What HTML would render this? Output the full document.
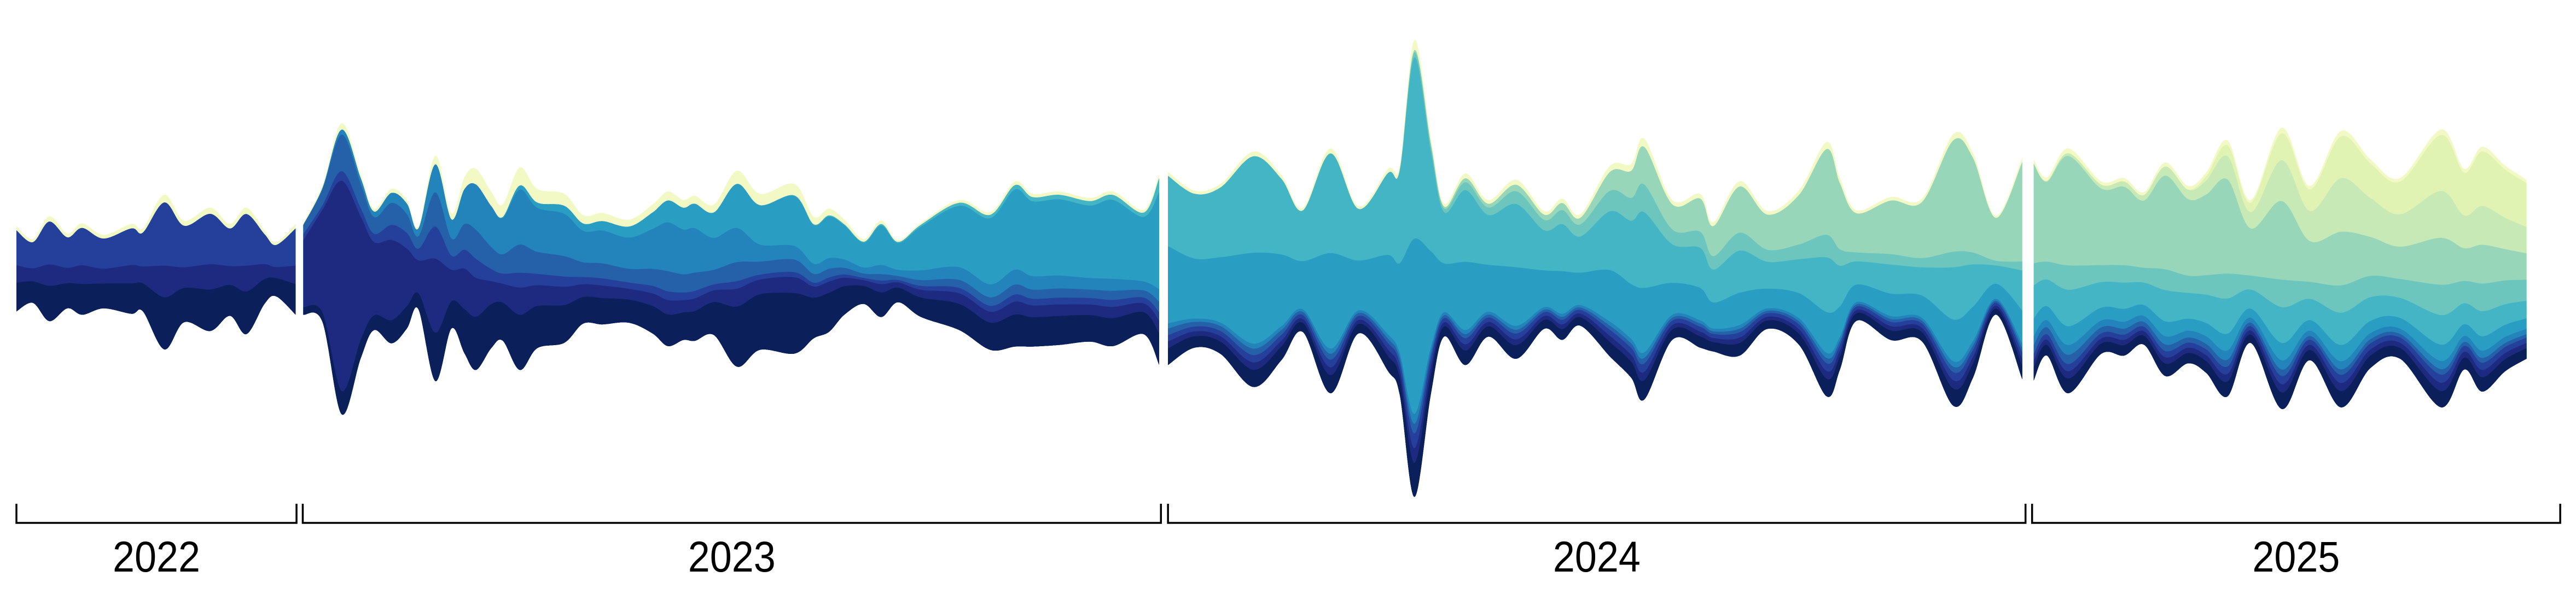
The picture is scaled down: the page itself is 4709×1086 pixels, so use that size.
<!DOCTYPE html>
<html><head><meta charset="utf-8"><style>
html,body{margin:0;padding:0;background:#fff;}
svg{display:block;}
</style></head>
<body>
<svg id="chart" width="4709" height="1086" viewBox="0 0 4709 1086" xmlns="http://www.w3.org/2000/svg">
<g id="layers"></g>
<g id="axis"></g>
</svg>
<script>
const t2022 = [10,20,30,41,50,63,80,87,100,112,128,140,150,161,168,180];
const top2022 = [137.6,145.5,131.7,142.2,136,143,136.3,139,118.5,134.3,126.4,136.3,126.4,140.3,147.5,136.3];
const bottom2022 = [189.6,184.4,195.5,187.7,191.6,187.7,191,189.6,212.7,196.2,201.5,192.3,203.4,185,180.4,191.6];

const t2023 = [184.6,196.3,208,219.6,227.6,238.3,247.7,254.7,265,274.8,282.7,289.7,299,306,316.4,327,343.5,355,366.8,383,397.2,406.5,416,423,434.6,448.6,462.6,483.6,495.3,504.7,514,525.7,536.4,546.7,560.7,584,602.8,617.8,628.5,644.9,663.6,677.6,696.3,705.6];
const top2023 = [135.6,112.6,75.1,106,127,115,121.8,137.6,94.8,129.7,108,102.7,116.6,124.5,102,115,118,131,129.7,133.7,124.5,116.6,121.8,119.2,124.5,104,118,112,132,127,133.7,145.5,134.3,146.2,135.6,121.8,129,110.6,118,116.6,120.5,116.6,127.7,106];
const bottom2023 = [191.6,196,252.2,218,201,209,200,188.3,232,200,215,225.2,212,207.4,225.2,212,208.7,197,197.5,196.5,203,210.7,207,207.5,204,223.2,213,215.3,206,202,191.6,185,193,184,193,201,213,211,211,210,208,210.7,203.5,222];

const t2024 = [711,727,743,763,780,793,810,827,845,852,861,871,879,892,906,923,940,951,962,980,993,1001,1018,1035,1043,1059,1076,1095,1112,1120,1130,1151,1170,1189,1201,1215,1231];
const top2024 = [104.6,116,112,92.2,106.5,126.6,90.3,125.6,102.7,100.8,24.3,83.6,123.7,105.6,121.8,109.4,128.5,120.9,130.4,101,99.8,84.5,121.8,118,135.2,110.3,128.5,116,86.4,108.4,128,119.9,120.9,81.7,93.1,131.4,96];
const bottom2024 = [222.2,211.7,215.5,235.6,219.3,202.1,239.4,203,226,240,302.5,240,205,222.2,205,218.4,200.2,206.9,198.3,217,230,243.2,206.9,211.7,214,216.5,200.2,209.8,241.3,225,195.4,207,207.9,247,230,191.6,230.8];

const t2025 = [1238,1246,1259,1279,1293,1305,1318,1332,1343,1356,1370,1389,1406,1425,1443,1461,1486,1500,1511,1525,1538];
const top2025 = [97,108,90.3,110.3,108.4,117,98.9,113.2,105,85.5,121.8,77.8,113.2,79.7,97,108.4,78.8,102.7,89.3,100.8,109.4];
const bottom2025 = [231.7,216.5,239.4,215.5,216.5,209.8,228.9,221.2,227,241.3,208.8,249,219.3,248,224,218.4,248,225,238.4,226,218.4];

const shareTimes = [10,180,185,215,260,300,420,470,560,705,712,850,960,1080,1232,1238,1330,1420,1538];
const shareL0  = [.33,.33,.05,.08,.2,.3,.18,.4,.2,.15,.07,.07,.07,.07,.06,.06,.06,.06,.06];
const shareL1  = [.2,.2,.7,.65,.35,.15,.08,.1,.08,.06,.03,.03,.03,.03,.03,.03,.03,.03,.03];
const shareL2  = [.4,.4,.03,.03,.15,.08,.05,.03,.04,.04,.03,.03,.03,.03,.03,.03,.03,.03,.03];
const shareL3  = [0,0,.1,.12,.15,.15,.12,.08,.06,.05,.03,.02,.02,.02,.02,.04,.03,.02,.02];
const shareL4  = [0,0,0,.02,.1,.28,.3,.08,.1,.06,.02,.02,.02,.02,.02,.04,.04,.03,.03];
const shareL5  = [0,0,0,0,0,0,.15,.28,.45,.45,.37,.37,.27,.16,.15,.08,.07,.06,.06];
const shareL6  = [0,0,0,0,0,0,0,0,.02,.03,.4,.38,.3,.22,.18,.15,.15,.12,.1];
const shareL7  = [0,0,0,0,0,0,0,0,0,0,0,0,.1,.1,.04,.1,.1,.1,.12];
const shareL8  = [0,0,0,0,0,0,0,0,0,0,0,0,.05,.3,.45,.45,.45,.2,.15];
const shareL9  = [0,0,0,0,0,0,0,0,0,0,0,0,0,0,0,0,.05,.2,.15];
const shareL10 = [0,0,0,0,0,0,0,0,0,0,0,0,0,0,0,0,0,.15,.25];
const shareL11 = [.05,.05,.02,.02,.03,.1,.05,.08,.02,.02,.02,.02,.03,.03,.02,.02,.02,.02,.02];

const yearLabels = ["2022","2023","2024","2025"];
const yearStart = [10,184.3,711,1237];
const yearEnd = [180.5,706.7,1233,1558.5];

const layerColors = ["#0b1f5b","#1d2a7f","#24409a","#2461a8","#2284bb","#2a9dc2","#44b5c4","#6dc6bd","#98d6b9","#c6e9b5","#e0f3b3","#f2f9c5"];

const S = 3.003;
const xScale = t => t * S;
const yScale = v => v * S;

const shares = [shareL0,shareL1,shareL2,shareL3,shareL4,shareL5,shareL6,shareL7,shareL8,shareL9,shareL10,shareL11];
function shareAt(arr, t){
  if (t <= shareTimes[0]) return arr[0];
  for (let i=0;i<shareTimes.length-1;i++){
    if (t>=shareTimes[i] && t<=shareTimes[i+1]){
      const f=(t-shareTimes[i])/(shareTimes[i+1]-shareTimes[i]);
      return arr[i]+(arr[i+1]-arr[i])*f;
    }
  }
  return arr[arr.length-1];
}
function curve(pts){
  let d = "";
  for (let i=0;i<pts.length-1;i++){
    const p0=pts[Math.max(0,i-1)], p1=pts[i], p2=pts[i+1], p3=pts[Math.min(pts.length-1,i+2)];
    const c1=[p1[0]+(p2[0]-p0[0])/6, p1[1]+(p2[1]-p0[1])/6];
    const c2=[p2[0]-(p3[0]-p1[0])/6, p2[1]-(p3[1]-p1[1])/6];
    d += ` C${c1[0].toFixed(1)},${c1[1].toFixed(1)} ${c2[0].toFixed(1)},${c2[1].toFixed(1)} ${p2[0].toFixed(1)},${p2[1].toFixed(1)}`;
  }
  return d;
}
const NS="http://www.w3.org/2000/svg";
const layersG=document.getElementById('layers');
const segments=[[t2022,top2022,bottom2022,"2022"],[t2023,top2023,bottom2023,"2023"],[t2024,top2024,bottom2024,"2024"],[t2025,top2025,bottom2025,"2025"]];
segments.forEach(seg=>{
  const [ts,tops,bots,yr]=seg;
  const g=document.createElementNS(NS,'g');
  
  
  layersG.appendChild(g);
  const bounds=[];
  ts.forEach((t,i)=>{
    const sh=shares.map(a=>Math.max(0,shareAt(a,t)));
    const tot=sh.reduce((a,b)=>a+b,0)||1;
    const h=bots[i]-tops[i];
    let acc=0; const row=[];
    sh.forEach(s=>{acc+=s/tot; row.push(bots[i]-h*acc);});
    bounds.push(row);
  });
  const lower=ts.map((t,i)=>[xScale(t),yScale(bots[i])]).reverse();
  for (let k=layerColors.length-1;k>=0;k--){
    const upper=ts.map((t,i)=>[xScale(t),yScale(bounds[i][k])]);
    let d=`M${upper[0][0].toFixed(1)},${upper[0][1].toFixed(1)}`+curve(upper);
    d+=` L${lower[0][0].toFixed(1)},${lower[0][1].toFixed(1)}`+curve(lower)+" Z";
    const p=document.createElementNS(NS,'path');
    p.setAttribute('d',d);
    p.setAttribute('fill',layerColors[k]);
    
    
    g.appendChild(p);
  }
});
const axisG=document.getElementById('axis');
yearLabels.forEach((lab,i)=>{
  const x0=xScale(yearStart[i]), x1=xScale(yearEnd[i]);
  const br=document.createElementNS(NS,'path');
  br.setAttribute('d',`M${x0},921 L${x0},956 L${x1},956 L${x1},921`);
  br.setAttribute('fill','none');br.setAttribute('stroke','#000');br.setAttribute('stroke-width','3.5');
  
  
  axisG.appendChild(br);
  const tx=document.createElementNS(NS,'text');
  tx.setAttribute('x',((x0+x1)/2).toFixed(1));
  tx.setAttribute('y','1045');
  tx.setAttribute('text-anchor','middle');
  tx.setAttribute('font-family','"Liberation Sans", sans-serif');
  tx.setAttribute('font-size','79');
  tx.setAttribute('textLength','160');
  tx.setAttribute('lengthAdjust','spacingAndGlyphs');
  tx.textContent=lab;
  
  
  axisG.appendChild(tx);
});
</script>
</body></html>
